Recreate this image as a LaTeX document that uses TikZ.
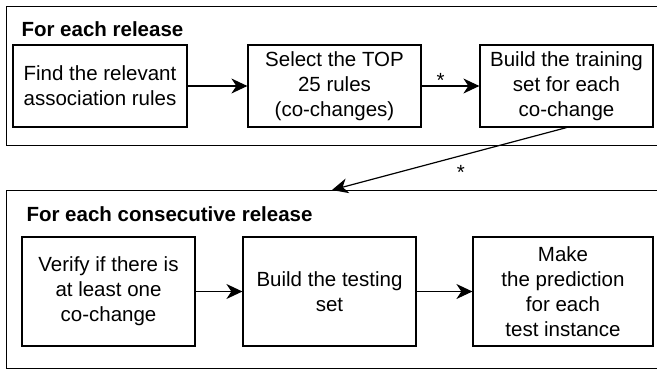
\documentclass[tikz,border=0pt]{standalone}
\usepackage{fontspec}
\setmainfont{Liberation Sans}
\usetikzlibrary{arrows.meta}

\begin{document}
\begin{tikzpicture}[x=1pt,y=-1pt]
  \tikzset{every node/.style={font=\fontsize{20.5}{25}\selectfont},
           group/.style={draw,line width=1.4pt,inner sep=0pt,anchor=north west},
           stepbox/.style={draw,line width=1.2pt,align=center,inner sep=2pt,minimum height=82pt},
           title/.style={anchor=base west,font=\fontsize{20.5}{25}\selectfont\bfseries},
           flow/.style={line width=1.2pt,-{Stealth[length=16pt,width=15pt,inset=5pt]}}}
  \useasboundingbox (0,0) rectangle (657,370);
  \clip (0,0) rectangle (657,370);
  % containers
  \node [group,minimum width=670pt,minimum height=139pt] (relset) at (6,6) {};
  \node [group,minimum width=670pt,minimum height=178pt] (consset) at (6,190) {};
  \node [title] (reltitle) at (18,36) {For each release};
  \node [title] (constitle) at (23,221) {For each consecutive release};
  % first release
  \node [stepbox,minimum width=174pt] (find) at (100,86) {Find the relevant\\association rules};
  \node [stepbox,minimum width=173pt] (select) at (334.5,86) {Select the TOP\\25 rules\\(co-changes)};
  \node [stepbox,minimum width=173pt] (train) at (566.5,86) {Build the training\\set for each\\co-change};
  % consecutive release
  \node [stepbox,minimum width=173pt,minimum height=109pt] (verify) at (108.5,291.5) {Verify if there is\\at least one\\co-change};
  \node [stepbox,minimum width=173pt,minimum height=109pt] (test) at (329.5,291.5) {Build the testing\\set};
  \node [stepbox,minimum width=180pt,minimum height=109pt] (predict) at (563,291.5) {Make\\the prediction\\for each\\test instance};
  \coordinate (cin) at (332,190);
  \draw [flow] (find) -- (select);
  \draw [flow] (select) -- node [pos=.33,above,yshift=-5pt] {*} (train);
  \draw [flow] (train.south) -- node [pos=.45,yshift=-17pt] {*} (cin);
  \draw [flow] (verify) -- (test);
  \draw [flow] (test) -- (predict);
\end{tikzpicture}
\end{document}
